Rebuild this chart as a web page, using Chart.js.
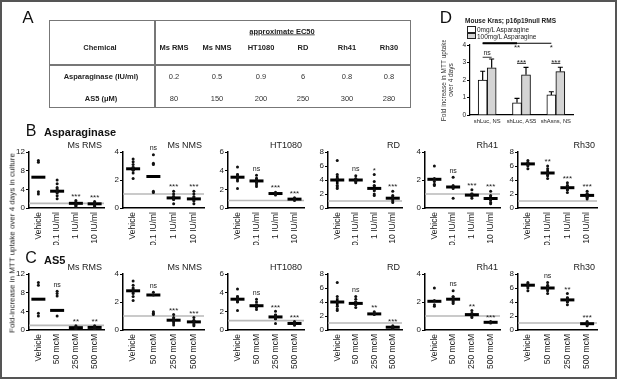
<!DOCTYPE html>
<html>
<head>
<meta charset="utf-8">
<script src="https://cdn.jsdelivr.net/npm/chart.js@4.4.1/dist/chart.umd.min.js"></script>
<style>
  body { margin: 0; background: #fff; font-family: Arial, "Liberation Sans", sans-serif; }
  #fig { position: relative; width: 617px; height: 379px; overflow: hidden; background: #fff; }
  #frame { position: absolute; left: 0; top: 0; width: 617px; height: 379px; box-sizing: border-box; border: 2px solid #555; pointer-events: none; }
  .t { position: absolute; transform: translate(-50%, -50%); white-space: nowrap; color: #222; will-change: transform; }
  .l { position: absolute; transform: translateY(-50%); white-space: nowrap; color: #222; will-change: transform; }
  canvas { position: absolute; }
  #tbl { position: absolute; left: 49px; top: 20px; width: 362px; height: 88px; box-sizing: border-box; border: 1.5px solid #777; }
  .line { position: absolute; background: #777; }
</style>
</head>
<body>
<div id="fig">
  <div id="frame"></div>
</div>
<script>
// panel A: approximate EC50 table
const tableCells = ['Ms RMS', 'Ms NMS', 'HT1080', 'RD', 'Rh41', 'Rh30'];
const asnEc50 = ['0.2', '0.5', '0.9', '6', '0.8', '0.8'];
const as5Ec50 = ['80', '150', '200', '250', '300', '280'];

// panels B and C: fold increase in MTT uptake, one entry per cell line
const cellLines = ['Ms RMS', 'Ms NMS', 'HT1080', 'RD', 'Rh41', 'Rh30'];
const yMax = [12, 4, 6, 8, 4, 8];
const yStep = [4, 2, 2, 2, 2, 2];

const asnLabels = ['Vehicle', '0.1 IU/ml', '1 IU/ml', '10 IU/ml'];
const asnDots = [
  [[10.2, 9.8, 3.5, 3.0], [6.0, 5.2, 4.4, 3.8, 3.4, 2.6, 2.0], [1.6, 1.0, 0.6, 0.3], [1.4, 0.9, 0.5, 0.3]],
  [[3.5, 3.3, 3.1, 2.9, 2.7, 2.5, 2.1], [3.8, 3.2, 3.1, 1.2, 1.1], [1.2, 1.0, 0.8, 0.6, 0.3], [1.2, 1.0, 0.8, 0.5, 0.3]],
  [[4.4, 3.6, 3.3, 2.9, 2.1], [3.5, 3.2, 2.8, 2.5, 2.3], [1.7, 1.6, 1.5, 1.4], [1.1, 1.0, 0.9, 0.8]],
  [[6.8, 4.8, 4.2, 3.2, 3.0, 2.8], [4.6, 4.2, 4.0, 3.8, 3.6], [4.8, 3.8, 3.2, 2.6, 2.0, 1.8], [2.4, 1.8, 1.4, 1.0, 0.8]],
  [[3.0, 2.1, 1.9, 1.7, 1.6], [2.2, 1.6, 1.4, 0.7], [1.3, 1.0, 0.9, 0.7], [1.2, 0.9, 0.6, 0.4, 0.3]],
  [[6.8, 6.5, 6.3, 6.0, 5.6], [6.0, 5.6, 5.0, 4.6, 4.2], [3.6, 3.2, 2.8, 2.6, 2.2], [2.4, 2.0, 1.7, 1.5, 1.3]],
];
const asnMean = [[6.6, 3.6, 1.0, 0.9], [2.8, 2.25, 0.72, 0.65], [3.3, 2.9, 1.55, 0.95], [4.0, 4.0, 2.8, 1.4], [2.05, 1.5, 0.92, 0.68], [6.3, 5.0, 2.9, 1.8]];
const asnSem = [[0, 0.6, 0.4, 0.35], [0.15, 0, 0.15, 0.15], [0.35, 0.3, 0.1, 0.08], [0.6, 0.2, 0.45, 0.3], [0, 0, 0.15, 0.2], [0.25, 0.4, 0.4, 0.35]];
const asnSig = [['', '', '***', '***'], ['', 'ns', '***', '***'], ['', 'ns', '***', '***'], ['', 'ns', '*', '***'], ['', 'ns', '***', '***'], ['', '**', '***', '***']];
const asnRef = [1, 1, 0.8, 1, 1, 1];

const as5Labels = ['Vehicle', '50 mcM', '250 mcM', '500 mcM'];
const as5Dots = [
  [[10.2, 9.6, 3.6, 3.0], [8.3, 7.8, 7.3, 3.0], [0.9, 0.6, 0.4, 0.2], [0.9, 0.6, 0.4, 0.2]],
  [[3.5, 3.2, 3.0, 2.8, 2.6, 2.4, 2.1], [2.7, 2.5, 1.3, 1.2, 1.1], [1.1, 0.9, 0.7, 0.5, 0.35], [0.9, 0.7, 0.6, 0.4, 0.3]],
  [[4.4, 3.6, 3.3, 3.0, 2.1], [3.3, 3.0, 2.6, 2.4, 2.2], [2.0, 1.6, 1.4, 1.2, 0.7], [0.9, 0.8, 0.7, 0.5]],
  [[6.8, 4.8, 4.0, 3.4, 3.0, 2.8], [4.8, 4.4, 4.0, 3.6, 3.2], [2.6, 2.4, 2.3, 2.2], [0.6, 0.4, 0.3, 0.2]],
  [[3.0, 2.1, 1.8, 1.7], [2.8, 2.4, 2.2, 2.0, 1.9], [1.4, 1.2, 1.0, 0.9], [0.6, 0.55, 0.5]],
  [[6.8, 6.5, 6.3, 6.0, 5.6], [6.8, 6.4, 6.0, 5.6, 5.2], [5.2, 4.6, 4.3, 4.0, 3.6], [1.2, 1.0, 0.8, 0.6]],
];
const as5Mean = [[6.6, 4.2, 0.5, 0.55], [2.8, 2.5, 0.7, 0.58], [3.3, 2.6, 1.4, 0.7], [4.0, 3.8, 2.3, 0.4], [2.05, 2.2, 1.1, 0.55], [6.4, 6.0, 4.3, 0.9]];
const as5Sem = [[0, 0, 0.3, 0.3], [0.15, 0, 0.15, 0.12], [0.35, 0.2, 0.3, 0.1], [0.5, 0.3, 0.1, 0.1], [0, 0.2, 0.1, 0.03], [0.25, 0.35, 0.4, 0.2]];
const as5Sig = [['', 'ns', '**', '**'], ['', 'ns', '***', '***'], ['', 'ns', '***', '***'], ['', 'ns', '**', '***'], ['', 'ns', '**', '***'], ['', 'ns', '**', '***']];
const as5Ref = [1, 1, 1, 1, 1, 1];

// panel D
const dLabels = ['shLuc, NS', 'shLuc, AS5', 'shAsns, NS'];
const dNoAsn = [2.0, 0.7, 1.15];
const dNoAsnErr = [0.5, 0.25, 0.18];
const dAsn = [2.7, 2.3, 2.48];
const dAsnErr = [0.5, 0.42, 0.25];
// brackets: [category, dataset] endpoints, height in axis units
const dBrackets = [
  { from: [0, 0], to: [0, 1], y: 3.3, text: 'ns', w: 0.8 },
  { from: [1, 0], to: [1, 1], y: 2.95, text: '***', w: 0.8 },
  { from: [2, 0], to: [2, 1], y: 2.95, text: '***', w: 0.8 },
  { from: [0, 0], to: [2, 0], y: 4.1, text: '*', w: 1.2, below: true },
  { from: [0, 0], to: [1, 0], y: 4.1, text: '**', w: 2.2, below: true },
];

const FONT = 'Arial, "Liberation Sans", sans-serif';
const fig = document.getElementById('fig');

function addText(cls, x, y, text, style) {
  const d = document.createElement('div');
  d.className = cls;
  d.style.left = x + 'px';
  d.style.top = y + 'px';
  d.textContent = text;
  Object.assign(d.style, style || {});
  fig.appendChild(d);
  return d;
}

function addCanvas(left, top, w, h) {
  const c = document.createElement('canvas');
  c.width = w; c.height = h;
  c.style.left = left + 'px'; c.style.top = top + 'px';
  c.style.width = w + 'px'; c.style.height = h + 'px';
  fig.appendChild(c);
  return c;
}

// ---------- panel A ----------
addText('t', 28, 18, 'A', { fontSize: '17px', color: '#111' });
const tbl = document.createElement('div');
tbl.id = 'tbl';
fig.appendChild(tbl);
const vl = document.createElement('div'); vl.className = 'line';
Object.assign(vl.style, { left: '154px', top: '20px', width: '1.5px', height: '88px' });
fig.appendChild(vl);
const hl = document.createElement('div'); hl.className = 'line';
Object.assign(hl.style, { left: '49px', top: '64px', width: '362px', height: '1.5px' });
fig.appendChild(hl);

const colX = [174, 217, 261, 303, 347, 389];
const bold = { fontWeight: 'bold', fontSize: '7.5px' };
const norm = { fontSize: '7.5px', color: '#333' };
addText('t', 282, 31, 'approximate EC50', Object.assign({ textDecoration: 'underline' }, bold));
addText('t', 100, 47, 'Chemical', bold);
addText('t', 101, 76, 'Asparaginase (IU/ml)', bold);
addText('t', 101, 98, 'AS5 (\u03bcM)', bold);
tableCells.forEach((c, i) => {
  addText('t', colX[i], 47, c, bold);
  addText('t', colX[i], 76, asnEc50[i], norm);
  addText('t', colX[i], 98, as5Ec50[i], norm);
});

// ---------- panels B and C ----------
addText('t', 31, 131, 'B', { fontSize: '16px', color: '#111' });
addText('l', 44, 132, 'Asparaginase', { fontSize: '11px', fontWeight: 'bold', color: '#111' });
addText('t', 31, 258, 'C', { fontSize: '16px', color: '#111' });
addText('l', 44, 260, 'AS5', { fontSize: '11px', fontWeight: 'bold', color: '#111' });
addText('t', 12, 243, 'Fold-increase in MTT uptake over 4 days in culture',
  { fontSize: '8px', transform: 'translate(-50%, -50%) rotate(-90deg)' });

const plotLeft = [29, 123, 228, 328, 425, 518];
const plotRight = [112, 212, 312, 410, 508, 605];

function dotPlugin(p) {
  return {
    id: 'dotExtras',
    beforeDatasetsDraw(chart) {
      const { ctx, chartArea: a, scales: { y } } = chart;
      const py = y.getPixelForValue(p.ref);
      ctx.save();
      ctx.strokeStyle = '#b9b9b9';
      ctx.lineWidth = 1.6;
      ctx.beginPath(); ctx.moveTo(a.left, py); ctx.lineTo(a.right, py); ctx.stroke();
      ctx.restore();
    },
    afterDraw(chart) {
      const { ctx, chartArea: a, scales: { x, y } } = chart;
      ctx.save();
      ctx.fillStyle = '#222';
      ctx.font = '9px ' + FONT;
      ctx.textAlign = 'right';
      ctx.textBaseline = 'middle';
      ctx.fillText(p.title, a.right - 2, a.top - 6);
      ctx.textAlign = 'center';
      ctx.textBaseline = 'bottom';
      p.sig.forEach((s, i) => {
        if (!s) return;
        const top = Math.max(...p.dots[i], p.mean[i] + p.sem[i]);
        const ns = s === 'ns';
        ctx.font = (ns ? '7px ' : '8px ') + FONT;
        ctx.fillText(s, x.getPixelForValue(i), y.getPixelForValue(top) - (ns ? 3 : 0));
      });
      ctx.restore();
    },
  };
}

function addDotChart(p) {
  const left = p.left - 16;
  const w = p.right - p.left + 18;
  const canvas = addCanvas(left, p.top, w, p.height);
  const pts = [];
  p.dots.forEach((g, i) => g.forEach(v => pts.push({ x: p.labels[i], y: v })));
  new Chart(canvas.getContext('2d'), {
    type: 'bar',
    data: {
      labels: p.labels,
      datasets: [
        { type: 'bar', data: p.mean.map((m, i) => p.sem[i] ? [m - p.sem[i], m + p.sem[i]] : null),
          backgroundColor: '#000', borderWidth: 0, barThickness: 2, order: 3 },
        { type: 'line', data: p.mean, showLine: false, pointStyle: 'line', pointRadius: 7,
          pointBorderColor: '#000', pointBorderWidth: 3, order: 2 },
        { type: 'line', data: pts, showLine: false, pointRadius: 1.5, pointBackgroundColor: '#111',
          pointBorderWidth: 0, order: 1 },
      ],
    },
    options: {
      responsive: false, animation: false, devicePixelRatio: 1,
      layout: { padding: { top: 12, right: 2, left: 0, bottom: 0 } },
      plugins: { legend: { display: false }, tooltip: { enabled: false } },
      scales: {
        x: {
          offset: true,
          grid: { display: false, drawTicks: false },
          border: { color: '#000', width: 1.5 },
          ticks: { color: '#222', font: { size: 8.5, family: FONT }, minRotation: 90, maxRotation: 90, autoSkip: false, padding: 4 },
          afterFit: s => { s.height = p.xh; },
        },
        y: {
          min: 0, max: p.max,
          ticks: { stepSize: p.step, color: '#222', font: { size: 8, family: FONT }, padding: 1 },
          grid: { drawOnChartArea: false, tickLength: 3, color: '#000', lineWidth: 1 },
          border: { color: '#000', width: 1.5 },
          afterFit: s => { s.width = 16; },
        },
      },
    },
    plugins: [dotPlugin(p)],
  });
}

cellLines.forEach((name, i) => {
  addDotChart({
    left: plotLeft[i], right: plotRight[i], top: 140, height: 105, xh: 37,
    title: name, labels: asnLabels, dots: asnDots[i], mean: asnMean[i], sem: asnSem[i],
    sig: asnSig[i], ref: asnRef[i], max: yMax[i], step: yStep[i],
  });
  addDotChart({
    left: plotLeft[i], right: plotRight[i], top: 262, height: 113, xh: 45,
    title: name, labels: as5Labels, dots: as5Dots[i], mean: as5Mean[i], sem: as5Sem[i],
    sig: as5Sig[i], ref: as5Ref[i], max: yMax[i], step: yStep[i],
  });
});

// ---------- panel D ----------
addText('t', 446, 18, 'D', { fontSize: '17px', color: '#111' });
addText('l', 465, 20, 'Mouse Kras; p16p19null RMS', { fontSize: '6.5px', fontWeight: 'bold' });
const legendItems = [['0mg/L Asparagine', '#fff'], ['100mg/L Asparagine', '#d4d4d4']];
legendItems.forEach(([txt, col], i) => {
  const b = document.createElement('div');
  Object.assign(b.style, { position: 'absolute', left: '467px', top: (26 + i * 6.5) + 'px', width: '7px', height: '4.5px',
    border: '1px solid #222', background: col });
  fig.appendChild(b);
  addText('l', 477, 29 + i * 6.5, txt, { fontSize: '6.5px' });
});

const dPlugin = {
  id: 'dExtras',
  afterDatasetsDraw(chart) {
    const { ctx, scales: { y } } = chart;
    ctx.save();
    ctx.strokeStyle = '#000';
    ctx.lineWidth = 1.2;
    [[dNoAsn, dNoAsnErr], [dAsn, dAsnErr]].forEach(([vals, err], di) => {
      chart.getDatasetMeta(di).data.forEach((bar, i) => {
        const y0 = y.getPixelForValue(vals[i]);
        const y1 = y.getPixelForValue(vals[i] + err[i]);
        ctx.beginPath();
        ctx.moveTo(bar.x, y0); ctx.lineTo(bar.x, y1);
        ctx.moveTo(bar.x - 2.5, y1); ctx.lineTo(bar.x + 2.5, y1);
        ctx.stroke();
      });
    });
    ctx.fillStyle = '#222';
    ctx.textAlign = 'center';
    dBrackets.forEach(b => {
      const x0 = chart.getDatasetMeta(b.from[1]).data[b.from[0]].x;
      const x1 = chart.getDatasetMeta(b.to[1]).data[b.to[0]].x;
      const py = y.getPixelForValue(b.y);
      ctx.lineWidth = b.w;
      ctx.beginPath(); ctx.moveTo(x0, py); ctx.lineTo(x1, py); ctx.stroke();
      ctx.font = (b.text === 'ns' ? '7px ' : '8px ') + FONT;
      if (b.below) {
        ctx.textBaseline = 'top';
        ctx.fillText(b.text, x1, py + 1);
      } else {
        ctx.textBaseline = 'bottom';
        ctx.fillText(b.text, (x0 + x1) / 2, b.text === 'ns' ? py - 0.5 : py + 3);
      }
    });
    ctx.restore();
  },
};

const dCanvas = addCanvas(436, 40, 140, 87);
new Chart(dCanvas.getContext('2d'), {
  type: 'bar',
  data: {
    labels: dLabels,
    datasets: [
      { label: '0mg/L Asparagine', data: dNoAsn, backgroundColor: '#fff', borderColor: '#000', borderWidth: 1,
        barThickness: 9, categoryPercentage: 0.35 },
      { label: '100mg/L Asparagine', data: dAsn, backgroundColor: '#d4d4d4', borderColor: '#000', borderWidth: 1,
        barThickness: 9, categoryPercentage: 0.35 },
    ],
  },
  options: {
    responsive: false, animation: false, devicePixelRatio: 1,
    layout: { padding: { top: 5, right: 3, left: 0, bottom: 0 } },
    plugins: { legend: { display: false }, tooltip: { enabled: false } },
    scales: {
      x: {
        grid: { display: false, drawTicks: false },
        border: { color: '#000', width: 1.2 },
        ticks: { color: '#222', font: { size: 5.8, family: FONT }, maxRotation: 0, autoSkip: false, padding: 3 },
        afterFit: s => { s.height = 12; },
      },
      y: {
        min: 0, max: 4,
        ticks: { stepSize: 1, color: '#222', font: { size: 6.5, family: FONT }, padding: 1 },
        grid: { drawOnChartArea: false, tickLength: 3, color: '#000', lineWidth: 1 },
        border: { color: '#000', width: 1.2 },
        title: { display: true, text: ['Fold increase in MTT uptake', 'over 4 days'], color: '#333',
          font: { size: 6.5, family: FONT }, padding: { top: 4, bottom: 2 } },
        afterFit: s => { s.width = 34; },
      },
    },
  },
  plugins: [dPlugin],
});
</script>
</body>
</html>
